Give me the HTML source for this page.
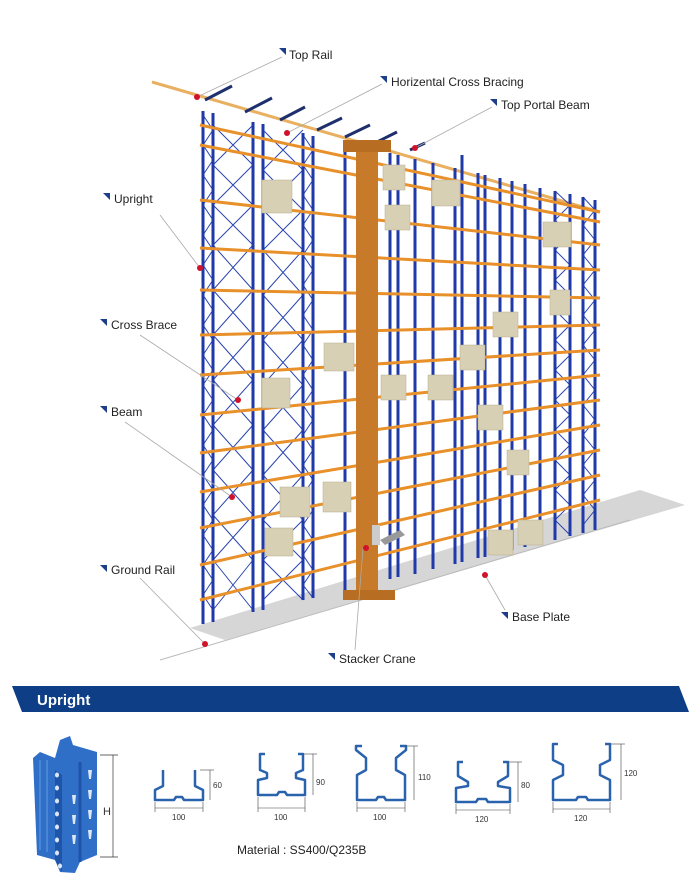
<!DOCTYPE html>
<html><head><meta charset="utf-8"><style>
html,body{margin:0;padding:0;background:#fff;}
svg{display:block}
text{font-family:"Liberation Sans",sans-serif;}
</style></head><body>
<svg width="700" height="882" viewBox="0 0 700 882" xmlns="http://www.w3.org/2000/svg">
<polygon points="190,628 640,490 685,505 225,640" fill="#d6d6d6"/>
<line x1="160" y1="660" x2="630" y2="520" stroke="#bbb" stroke-width="1"/>
<line x1="152" y1="82" x2="600" y2="212" stroke="#e8b060" stroke-width="3"/>
<g stroke="#1e2f6e" stroke-width="3">
<line x1="205" y1="100" x2="232" y2="86"/><line x1="245" y1="112" x2="272" y2="98"/>
<line x1="280" y1="120" x2="305" y2="107"/><line x1="317" y1="130" x2="342" y2="118"/>
<line x1="345" y1="137" x2="370" y2="125"/><line x1="373" y1="144" x2="397" y2="132"/>
<line x1="410" y1="150" x2="425" y2="143"/>
</g>
<g stroke="#2b45b0" stroke-width="1" fill="none">
<path d="M213,125 L253,165 M253,125 L213,165 M213,165 L253,205 M253,165 L213,205 M213,205 L253,245 M253,205 L213,245 M213,245 L253,290 M253,245 L213,290 M213,290 L253,335 M253,290 L213,335 M213,335 L253,380 M253,335 L213,380 M213,380 L253,425 M253,380 L213,425 M213,425 L253,470 M253,425 L213,470 M213,470 L253,515 M253,470 L213,515 M213,515 L253,560 M253,515 L213,560 M213,560 L253,610 M253,560 L213,610"/>
<path d="M263,130 L303,170 M303,130 L263,170 M263,170 L303,210 M303,170 L263,210 M263,210 L303,250 M303,210 L263,250 M263,250 L303,295 M303,250 L263,295 M263,295 L303,340 M303,295 L263,340 M263,340 L303,385 M303,340 L263,385 M263,385 L303,430 M303,385 L263,430 M263,430 L303,475 M303,430 L263,475 M263,475 L303,520 M303,475 L263,520 M263,520 L303,560 M303,520 L263,560 M263,560 L303,600 M303,560 L263,600"/>
<path d="M203,115 L213,130 L203,145 L213,160 L203,175 L213,190 L203,205 L213,220 L203,235 L213,250 L203,265 L213,280 L203,295 L213,310 L203,325 L213,340 L203,355 L213,370 L203,385 L213,400 L203,415 L213,430 L203,445 L213,460 L203,475 L213,490 L203,505 L213,520 L203,535 L213,550 L203,565 L213,580 L203,595 L213,610"/>
<path d="M303,135 L313,150 L303,165 L313,180 L303,195 L313,210 L303,225 L313,240 L303,255 L313,270 L303,285 L313,300 L303,315 L313,330 L303,345 L313,360 L303,375 L313,390 L303,405 L313,420 L303,435 L313,450 L303,465 L313,480 L303,495 L313,510 L303,525 L313,540 L303,555 L313,570 L303,585 L313,598"/>
<path d="M555,191 L570,205 L555,220 L570,235 L555,250 L570,265 L555,280 L570,295 L555,310 L570,325 L555,340 L570,355 L555,370 L570,385 L555,400 L570,415 L555,430 L570,445 L555,460 L570,475 L555,490 L570,505 L555,520 L570,535"/>
<path d="M583,197 L595,210 L583,225 L595,240 L583,255 L595,270 L583,285 L595,300 L583,315 L595,330 L583,345 L595,360 L583,375 L595,390 L583,405 L595,420 L583,435 L595,450 L583,465 L595,480 L583,495 L595,510 L583,525"/>
</g>
<g stroke="#1f3aa8" stroke-width="3">
<line x1="203" y1="111" x2="203" y2="624"/><line x1="213" y1="113" x2="213" y2="622"/>
<line x1="253" y1="122" x2="253" y2="612"/><line x1="263" y1="124" x2="263" y2="610"/>
<line x1="303" y1="133" x2="303" y2="600"/><line x1="313" y1="136" x2="313" y2="598"/>
<line x1="345" y1="143" x2="345" y2="590"/>
<line x1="390" y1="153" x2="390" y2="579"/><line x1="398" y1="155" x2="398" y2="577"/>
<line x1="415" y1="159" x2="415" y2="574"/><line x1="433" y1="163" x2="433" y2="569"/>
<line x1="455" y1="168" x2="455" y2="564"/><line x1="462" y1="155" x2="462" y2="562"/>
<line x1="478" y1="173" x2="478" y2="558"/><line x1="485" y1="175" x2="485" y2="557"/>
<line x1="500" y1="178" x2="500" y2="553"/><line x1="512" y1="181" x2="512" y2="550"/>
<line x1="525" y1="184" x2="525" y2="547"/><line x1="540" y1="188" x2="540" y2="543"/>
<line x1="555" y1="191" x2="555" y2="540"/><line x1="570" y1="194" x2="570" y2="536"/>
<line x1="583" y1="197" x2="583" y2="533"/><line x1="595" y1="200" x2="595" y2="530"/>
</g>
<g stroke="#e8902a" stroke-width="3">
<line x1="200" y1="125" x2="600" y2="212"/>
<line x1="200" y1="145" x2="600" y2="222"/>
<line x1="200" y1="200" x2="600" y2="245"/>
<line x1="200" y1="248" x2="600" y2="270"/>
<line x1="200" y1="290" x2="600" y2="298"/>
<line x1="200" y1="335" x2="600" y2="325"/>
<line x1="200" y1="375" x2="600" y2="350"/>
<line x1="200" y1="415" x2="600" y2="375"/>
<line x1="200" y1="453" x2="600" y2="400"/>
<line x1="200" y1="492" x2="600" y2="425"/>
<line x1="200" y1="528" x2="600" y2="450"/>
<line x1="200" y1="565" x2="600" y2="475"/>
<line x1="200" y1="600" x2="600" y2="500"/>
</g>
<g fill="#d8d0b4" stroke="#b8ad90" stroke-width="0.5">
<rect x="262" y="180" width="30" height="33"/><rect x="383" y="165" width="22" height="25"/>
<rect x="432" y="180" width="28" height="26"/><rect x="385" y="205" width="25" height="25"/>
<rect x="543" y="222" width="28" height="25"/><rect x="550" y="290" width="20" height="25"/>
<rect x="493" y="312" width="25" height="25"/><rect x="460" y="345" width="25" height="25"/>
<rect x="324" y="343" width="30" height="28"/><rect x="262" y="378" width="28" height="30"/>
<rect x="381" y="375" width="25" height="25"/><rect x="428" y="375" width="25" height="25"/>
<rect x="478" y="405" width="25" height="25"/><rect x="507" y="450" width="22" height="25"/>
<rect x="280" y="487" width="30" height="30"/><rect x="323" y="482" width="28" height="30"/>
<rect x="265" y="528" width="28" height="28"/><rect x="488" y="530" width="25" height="25"/>
<rect x="518" y="520" width="25" height="25"/>
</g>
<rect x="356" y="146" width="22" height="448" fill="#c77a2a"/>
<rect x="343" y="140" width="48" height="12" fill="#b86e22"/>
<rect x="343" y="590" width="52" height="10" fill="#b86e22"/>
<rect x="372" y="525" width="8" height="20" fill="#ccc"/>
<polygon points="380,540 400,530 405,535 385,545" fill="#999"/>
<g stroke="#aaa" stroke-width="0.8">
<line x1="282" y1="57" x2="197" y2="97"/><line x1="382" y1="84" x2="287" y2="133"/>
<line x1="492" y1="107" x2="415" y2="148"/><line x1="160" y1="215" x2="200" y2="268"/>
<line x1="140" y1="335" x2="238" y2="400"/><line x1="125" y1="422" x2="232" y2="497"/>
<line x1="140" y1="578" x2="205" y2="644"/><line x1="355" y1="650" x2="363" y2="548"/>
<line x1="505" y1="610" x2="485" y2="575"/>
</g>
<g fill="#d0122a">
<circle cx="197" cy="97" r="3"/><circle cx="287" cy="133" r="3"/><circle cx="415" cy="148" r="3"/>
<circle cx="200" cy="268" r="3"/><circle cx="238" cy="400" r="3"/><circle cx="232" cy="497" r="3"/>
<circle cx="205" cy="644" r="3"/><circle cx="366" cy="548" r="3"/><circle cx="485" cy="575" r="3"/>
</g>
<g font-size="12" fill="#222">
<path d="M279,48 L286,48 L286,55Z" fill="#1d3f8a"/><text x="289" y="59">Top Rail</text>
<path d="M380,76 L387,76 L387,83Z" fill="#1d3f8a"/><text x="391" y="86">Horizental Cross Bracing</text>
<path d="M490,99 L497,99 L497,106Z" fill="#1d3f8a"/><text x="501" y="109">Top Portal Beam</text>
<path d="M103,193 L110,193 L110,200Z" fill="#1d3f8a"/><text x="114" y="203">Upright</text>
<path d="M100,319 L107,319 L107,326Z" fill="#1d3f8a"/><text x="111" y="329">Cross Brace</text>
<path d="M100,406 L107,406 L107,413Z" fill="#1d3f8a"/><text x="111" y="416">Beam</text>
<path d="M100,565 L107,565 L107,572Z" fill="#1d3f8a"/><text x="111" y="574">Ground Rail</text>
<path d="M328,653 L335,653 L335,660Z" fill="#1d3f8a"/><text x="339" y="663">Stacker Crane</text>
<path d="M501,612 L508,612 L508,619Z" fill="#1d3f8a"/><text x="512" y="621">Base Plate</text>
</g>
<polygon points="12,686 679,686 689,712 22,712" fill="#0e3e86"/>
<text x="37" y="705" font-size="15" font-weight="bold" fill="#fff">Upright</text>
<g>
<path d="M33,758 L40,752 L55,758 L60,740 L70,736 L73,745 L97,752 L97,855 L80,862 L75,873 L60,872 L55,860 L37,855 Z" fill="#2f6fc8"/>
<path d="M55,770 L55,860 L62,872 L62,775 Z" fill="#1f55a8"/>
<path d="M80,762 L80,862" stroke="#1f55a8" stroke-width="3"/>
<path d="M40,760 L40,850 M47,760 L47,852" stroke="#4a86d6" stroke-width="2"/>
<g fill="#dde8f6">
<ellipse cx="57" cy="775" rx="2" ry="2.5"/><ellipse cx="57" cy="788" rx="2" ry="2.5"/><ellipse cx="57" cy="801" rx="2" ry="2.5"/><ellipse cx="57" cy="814" rx="2" ry="2.5"/><ellipse cx="57" cy="827" rx="2" ry="2.5"/><ellipse cx="57" cy="840" rx="2" ry="2.5"/><ellipse cx="57" cy="853" rx="2" ry="2.5"/><ellipse cx="60" cy="866" rx="2" ry="2.5"/>
<path d="M72,795 l4,0 l-1,9 l-2,0z M72,815 l4,0 l-1,9 l-2,0z M72,835 l4,0 l-1,9 l-2,0z M88,770 l4,0 l-1,9 l-2,0z M88,790 l4,0 l-1,9 l-2,0z M88,810 l4,0 l-1,9 l-2,0z M88,830 l4,0 l-1,9 l-2,0z"/>
</g>
</g>
<g stroke="#333" stroke-width="0.7" fill="none">
<line x1="113" y1="755" x2="113" y2="857"/><line x1="100" y1="755" x2="118" y2="755"/><line x1="100" y1="857" x2="118" y2="857"/>
</g>
<text x="103" y="815" font-size="11" fill="#333">H</text>
<g stroke="#2a63ad" stroke-width="2.5" fill="none" stroke-linejoin="round">
<path d="M163,770 L163,786 L155,790 L155,800 L174,800 L176,797 L182,797 L184,800 L203,800 L203,790 L195,786 L195,770"/>
<path d="M265,754 L260,754 L260,770 L267,773 L267,778 L258,780 L258,795 L277,795 L279,792 L285,792 L287,795 L305,795 L305,780 L296,778 L296,773 L303,770 L303,754 L298,754"/>
<path d="M362,746 L356,746 L356,750 L366,758 L366,770 L357,775 L357,800 L376,800 L378,797 L384,797 L386,800 L405,800 L405,775 L396,770 L396,758 L406,750 L406,746 L400,746"/>
<path d="M463,762 L458,762 L458,776 L468,782 L468,786 L456,788 L456,802 L476,802 L478,799 L486,799 L488,802 L510,802 L510,788 L498,786 L498,782 L508,776 L508,762 L503,762"/>
<path d="M558,744 L553,744 L553,760 L563,765 L563,775 L553,780 L553,800 L576,800 L578,797 L586,797 L588,800 L610,800 L610,780 L600,775 L600,765 L610,760 L610,744 L605,744"/>
</g>
<g stroke="#444" stroke-width="0.6" fill="none">
<line x1="210" y1="770" x2="210" y2="800"/><line x1="200" y1="770" x2="214" y2="770"/>
<line x1="155" y1="808" x2="203" y2="808"/><line x1="155" y1="802" x2="155" y2="812"/><line x1="203" y1="802" x2="203" y2="812"/>
<line x1="313" y1="754" x2="313" y2="795"/><line x1="303" y1="754" x2="317" y2="754"/>
<line x1="258" y1="808" x2="305" y2="808"/><line x1="258" y1="797" x2="258" y2="812"/><line x1="305" y1="797" x2="305" y2="812"/>
<line x1="414" y1="746" x2="414" y2="800"/><line x1="406" y1="746" x2="418" y2="746"/>
<line x1="357" y1="808" x2="405" y2="808"/><line x1="357" y1="802" x2="357" y2="812"/><line x1="405" y1="802" x2="405" y2="812"/>
<line x1="518" y1="762" x2="518" y2="802"/><line x1="508" y1="762" x2="522" y2="762"/>
<line x1="456" y1="810" x2="510" y2="810"/><line x1="456" y1="804" x2="456" y2="814"/><line x1="510" y1="804" x2="510" y2="814"/>
<line x1="621" y1="744" x2="621" y2="800"/><line x1="610" y1="744" x2="625" y2="744"/>
<line x1="553" y1="809" x2="610" y2="809"/><line x1="553" y1="802" x2="553" y2="813"/><line x1="610" y1="802" x2="610" y2="813"/>
</g>
<g font-size="8" fill="#333">
<text x="213" y="788">60</text><text x="172" y="820">100</text>
<text x="316" y="785">90</text><text x="274" y="820">100</text>
<text x="418" y="780">110</text><text x="373" y="820">100</text>
<text x="521" y="788">80</text><text x="475" y="822">120</text>
<text x="624" y="776">120</text><text x="574" y="821">120</text>
</g>
<text x="237" y="854" font-size="12" fill="#222">Material : SS400/Q235B</text>
</svg>
</body></html>
